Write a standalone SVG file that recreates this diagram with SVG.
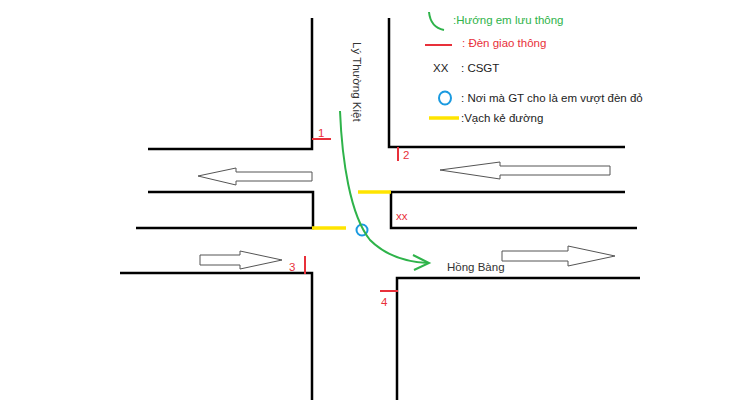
<svg xmlns="http://www.w3.org/2000/svg" width="750" height="409" viewBox="0 0 750 409">
<style>
.r{fill:none;stroke:#000;stroke-width:2.5}
.ar{fill:#fff;stroke:#555;stroke-width:1}
.t{font-family:"Liberation Sans",Arial,sans-serif;font-size:11.5px}
.red{stroke:#e8303a;stroke-width:2;fill:none}
.yel{stroke:#ffe400;stroke-width:3.5}
</style>
<rect width="750" height="409" fill="#fff"/>
<g id="roads">
<path class="r" d="M312 18V149H148"/>
<path class="r" d="M389 18V147H625"/>
<path class="r" d="M148 192H313V228H136"/>
<path class="r" d="M625 192H391V228H637"/>
<path class="r" d="M120 273H312V400"/>
<path class="r" d="M640 278H397V400"/>
</g>
<g id="arrows">
<path class="ar" d="M198 176L236 168V172H312V181H236V185Z"/>
<path class="ar" d="M440 170L500 162V166H610V175H500V179Z"/>
<path class="ar" d="M200 255H240V251L282 260L240 269V265H200Z"/>
<path class="ar" d="M502 251H568V246L615 256L568 266V261H502Z"/>
</g>
<g id="marks">
<line class="yel" x1="312" y1="228" x2="346" y2="228"/>
<line class="yel" x1="358" y1="192" x2="391" y2="192"/>
<line class="red" x1="312" y1="139" x2="331" y2="139"/>
<text class="t" x="318" y="137" fill="#e8303a">1</text>
<line class="red" x1="398" y1="147" x2="398" y2="161"/>
<text class="t" x="403" y="159" fill="#e8303a">2</text>
<line class="red" x1="305" y1="256" x2="305" y2="274"/>
<text class="t" x="289" y="271" fill="#e8303a">3</text>
<line class="red" x1="380" y1="291" x2="398" y2="291"/>
<text class="t" x="381" y="306" fill="#e8303a">4</text>
<text class="t" x="396" y="220" fill="#e8303a" font-size="9">xx</text>
<circle cx="362" cy="230" r="5.5" fill="none" stroke="#1a9ae0" stroke-width="2"/>
</g>
<g id="route">
<path d="M340 111C342 160 350 215 370 240C385 255 405 262 428 263" fill="none" stroke="#2eb34a" stroke-width="2"/>
<path d="M413 255L429 263L414 270" fill="none" stroke="#2eb34a" stroke-width="2"/>
</g>
<g id="labels">
<text class="t" transform="translate(353,42) rotate(90)" fill="#333">Lý Thường Kiệt</text>
<text class="t" x="447" y="271" fill="#333">Hồng Bàng</text>
</g>
<g id="legend">
<path d="M429 12C430 22 434 28 444 30" fill="none" stroke="#2eb34a" stroke-width="2"/>
<text class="t" x="453" y="24" fill="#2eb34a">:Hướng em lưu thông</text>
<line class="red" x1="425" y1="45" x2="452" y2="45"/>
<text class="t" x="462" y="47" fill="#e8303a">: Đèn giao thông</text>
<text class="t" x="433" y="72" fill="#222">XX</text>
<text class="t" x="461" y="72" fill="#222">: CSGT</text>
<ellipse cx="445" cy="98" rx="6" ry="6.5" fill="none" stroke="#1a9ae0" stroke-width="2"/>
<text class="t" x="461" y="102" fill="#222">: Nơi mà GT cho là em vượt đèn đỏ</text>
<line class="yel" x1="429" y1="118" x2="459" y2="118"/>
<text class="t" x="461" y="122" fill="#222">:Vạch kẻ đường</text>
</g>
</svg>
